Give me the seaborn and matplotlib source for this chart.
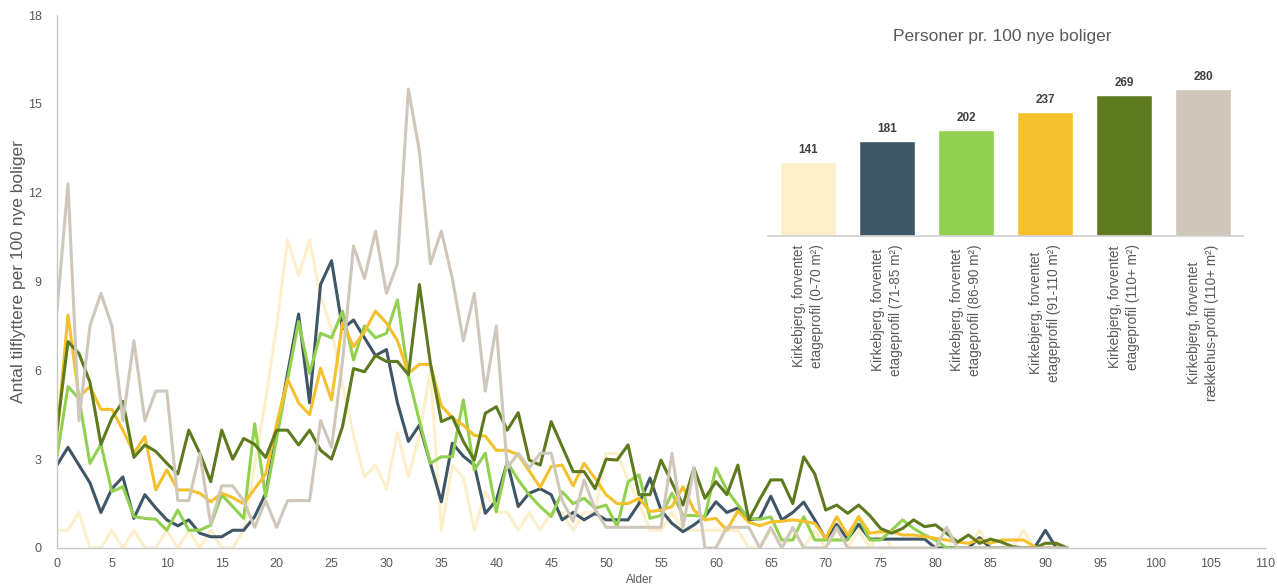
import matplotlib
matplotlib.use("Agg")
import matplotlib.pyplot as plt
import pandas as pd
import seaborn as sns

# ---------------- data ----------------
ages = list(range(0, 93))

series_names = [
    "Kirkebjerg, forventet\netageprofil (0-70 m²)",
    "Kirkebjerg, forventet\netageprofil (71-85 m²)",
    "Kirkebjerg, forventet\netageprofil (86-90 m²)",
    "Kirkebjerg, forventet\netageprofil (91-110 m²)",
    "Kirkebjerg, forventet\netageprofil (110+ m²)",
    "Kirkebjerg, forventet\nrækkehus-profil (110+ m²)",
]

cream = [0.6, 0.6, 1.2, 0, 0, 0.6, 0, 0.6, 0, 0, 0.6, 0, 0.6, 0, 0.6, 0, 0, 0.6, 2.8, 5.0,
         7.5, 10.4, 9.2, 10.4, 8.5, 7.4, 5.5, 3.8, 2.4, 2.8, 2.0, 3.9, 2.4, 3.8, 6.0, 0.6, 2.8, 2.4, 0.6, 1.9,
         1.2, 1.2, 0.6, 1.2, 0.6, 1.2, 1.2, 0.6, 1.2, 1.2, 3.2, 3.2, 2.3, 1.5, 0.6, 0.6, 1.2, 0.6, 0.6, 0.6,
         0.6, 0.6, 0.6, 0, 0, 0.6, 0, 0.6, 0, 0.6, 0, 0.6, 0, 0.6, 0, 0.6, 0, 0, 0, 0,
         0, 0, 0, 0, 0.6, 0, 0, 0, 0.6, 0, 0, 0, 0]

slate = [2.8, 3.4, 2.8, 2.2, 1.2, 2.0, 2.4, 1.0, 1.8, 1.35, 0.95, 0.75, 0.95, 0.5, 0.38, 0.38, 0.6, 0.6, 1.06, 1.84,
         3.85, 5.9, 7.9, 4.9, 8.9, 9.7, 7.4, 7.7, 7.1, 6.5, 6.7, 4.9, 3.6, 4.15, 2.86, 1.56, 3.54, 3.1, 2.8, 1.17,
         1.6, 2.9, 1.4, 1.85, 2.0, 1.8, 0.95, 1.2, 0.95, 1.17, 0.95, 0.95, 0.95, 1.5, 2.36, 1.28, 0.83, 0.55, 0.78, 1.06,
         1.56, 1.2, 1.35, 0.95, 1.0, 1.75, 0.95, 1.2, 1.55, 0.95, 0.3, 0.8, 0.3, 0.8, 0.3, 0.3, 0.3, 0.3, 0.3, 0.3,
         0, 0, 0, 0, 0.35, 0, 0, 0, 0, 0, 0.6, 0, 0]

green = [3.1, 5.45, 5.05, 2.86, 3.5, 1.9, 2.07, 1.06, 1.0, 0.97, 0.6, 1.28, 0.6, 0.6, 0.77, 1.8, 1.4, 1.0, 4.2, 1.73,
         3.7, 5.7, 7.65, 5.9, 7.25, 7.1, 8.0, 6.35, 7.5, 7.1, 7.25, 8.38, 5.8, 4.3, 2.86, 3.08, 3.08, 5.0, 2.63, 3.2,
         1.23, 2.9, 2.3, 1.8, 1.4, 1.06, 1.9, 1.5, 1.68, 1.34, 1.45, 0.72, 2.24, 2.47, 1.0, 1.1, 1.85, 1.1, 1.1, 1.06,
         2.7, 1.96, 1.45, 1.0, 0.97, 1.05, 0.27, 0.27, 1.06, 0.27, 0.27, 0.27, 0.27, 1.06, 0.27, 0.27, 0.6, 0.95, 0.66, 0.44,
         0.27, 0, 0, 0, 0, 0, 0, 0, 0, 0, 0, 0, 0]

yellow = [3.76, 7.87, 5.1, 5.45, 4.68, 4.68, 3.98, 3.2, 3.76, 1.96, 2.64, 1.96, 1.96, 1.85, 1.56, 1.85, 1.7, 1.5, 2.0, 2.5,
          4.2, 5.7, 4.9, 4.5, 6.07, 5.0, 7.6, 6.8, 7.3, 8.0, 7.6, 7.0, 5.9, 6.2, 6.2, 4.8, 4.4, 4.15, 3.8, 3.78,
          3.3, 3.3, 3.15, 2.6, 2.05, 2.75, 2.8, 2.1, 2.86, 2.35, 1.8, 1.5, 1.5, 1.68, 1.23, 1.28, 1.4, 2.07, 1.28, 0.95,
          1.0, 0.6, 1.25, 0.87, 0.75, 0.88, 0.9, 0.95, 0.9, 0.83, 0.33, 1.06, 0.44, 1.06, 0.5, 0.55, 0.55, 0.44, 0.44, 0.38,
          0.33, 0.27, 0.2, 0.16, 0.27, 0.16, 0.27, 0.27, 0.27, 0.05, 0, 0, 0]

olive = [3.98, 6.97, 6.57, 5.6, 3.5, 4.39, 4.95, 3.06, 3.48, 3.26, 2.86, 2.5, 3.98, 3.2, 2.24, 3.98, 3.0, 3.7, 3.5, 3.06,
         3.98, 3.98, 3.48, 3.98, 3.3, 3.0, 4.1, 6.06, 5.95, 6.5, 6.3, 6.3, 5.85, 8.9, 6.24, 4.27, 4.43, 3.6, 2.97, 4.55,
         4.77, 3.98, 4.57, 2.97, 2.8, 4.27, 3.43, 2.58, 2.58, 2.0, 3.0, 2.97, 3.48, 1.8, 1.8, 2.97, 2.2, 1.45, 2.7, 1.68,
         2.24, 1.8, 2.8, 0.95, 1.65, 2.3, 2.3, 1.5, 3.08, 2.5, 1.28, 1.45, 1.17, 1.45, 1.1, 0.66, 0.5, 0.66, 0.95, 0.72,
         0.78, 0.5, 0.2, 0.44, 0.16, 0.3, 0.2, 0.05, 0, 0, 0.16, 0.16, 0]

beige = [8.0, 12.3, 4.3, 7.5, 8.6, 7.5, 4.3, 7.0, 4.3, 5.3, 5.3, 1.6, 1.6, 3.2, 0.8, 2.1, 2.1, 1.6, 0.7, 1.6,
         0.7, 1.6, 1.6, 1.6, 4.3, 3.4, 6.3, 10.2, 9.1, 10.7, 8.6, 9.6, 15.5, 13.4, 9.6, 10.7, 9.1, 7.0, 8.6, 5.3,
         7.5, 2.7, 3.2, 2.7, 3.2, 3.2, 1.6, 0.9, 2.3, 1.3, 0.7, 0.7, 0.7, 0.7, 0.7, 0.7, 3.2, 0.7, 2.7, 0,
         0, 0.7, 0.7, 0.7, 0, 0.7, 0, 0.7, 0, 0, 0, 0.7, 0, 0, 0, 0, 0, 0, 0, 0,
         0, 0.7, 0, 0, 0, 0, 0, 0, 0, 0, 0, 0, 0]

bar_values = [141, 181, 202, 237, 269, 280]

colors = ["#FCEFCA", "#3F5666", "#92D050", "#F4C12C", "#5E7A1E", "#D0C7BB"]

x_ticks = list(range(0, 111, 5))
y_ticks = list(range(0, 19, 3))

# ---------------- figure ----------------
sns.set_theme(style="white")
plt.rcParams["font.family"] = ["Liberation Sans", "DejaVu Sans"]

W, H = 1277, 588
fig = plt.figure(figsize=(W / 100, H / 100), dpi=100)

ax = fig.add_axes([57 / W, (H - 548) / H, 1208 / W, 533 / H])

all_series = [cream, slate, green, yellow, olive, beige]
rows = []
for name, vals in zip(series_names, all_series):
    for a, v in zip(ages, vals):
        rows.append({"Alder": a, "value": v, "serie": name})
df = pd.DataFrame(rows)

sns.lineplot(data=df, x="Alder", y="value", hue="serie", hue_order=series_names,
             palette=colors, linewidth=2.2, estimator=None, sort=False,
             legend=False, ax=ax)

ax.set_xlim(0, 110)
ax.set_ylim(0, 18)
ax.set_xticks(x_ticks)
ax.set_yticks(y_ticks)
ax.tick_params(axis="both", length=0, labelsize=9, colors="#595959")
ax.tick_params(axis="y", pad=11)
ax.tick_params(axis="x", pad=7)
for s in ["top", "right"]:
    ax.spines[s].set_visible(False)
for s in ["left", "bottom"]:
    ax.spines[s].set_color("#C8C8C8")
    ax.spines[s].set_linewidth(1.0)

ax.set_ylabel("Antal tilflyttere per 100 nye boliger", fontsize=12.5, color="#595959")
ax.yaxis.set_label_coords((26 - 57) / 1208, (548 - 272) / 533)
ax.set_xlabel("Alder", fontsize=8.5, color="#595959")
ax.xaxis.set_label_coords((640 - 57) / 1208, (548 - 574) / 533)

# ---------------- inset bar chart ----------------
ax2 = fig.add_axes([768 / W, (H - 236) / H, 475 / W, 157.5 / H])
bdf = pd.DataFrame({"cat": series_names, "val": bar_values})
sns.barplot(data=bdf, x="cat", y="val", hue="cat", hue_order=series_names,
            palette=colors, width=0.7, legend=False, ax=ax2, saturation=1)
ax2.set_xlim(-0.506, 5.506)
ax2.set_ylim(0, 300)
ax2.set_yticks([])
ax2.set_xlabel("")
ax2.set_ylabel("")
ax2.set_facecolor("none")
for s in ["top", "right", "left"]:
    ax2.spines[s].set_visible(False)
ax2.spines["bottom"].set_color("#D0D0D0")
ax2.tick_params(axis="x", length=0, pad=6)
ax2.set_xticks(range(len(series_names)))
ax2.set_xticklabels(series_names, rotation=90, fontsize=9.8, color="#595959",
                    ha="center", va="top", linespacing=1.3)
for cont in ax2.containers:
    ax2.bar_label(cont, fontsize=8.5, fontweight="bold", color="#404040", padding=4)

fig.text(1002 / W, 1 - 36 / H, "Personer pr. 100 nye boliger", ha="center", va="center",
         fontsize=12.5, color="#595959")

fig.savefig("out.png", dpi=100)
